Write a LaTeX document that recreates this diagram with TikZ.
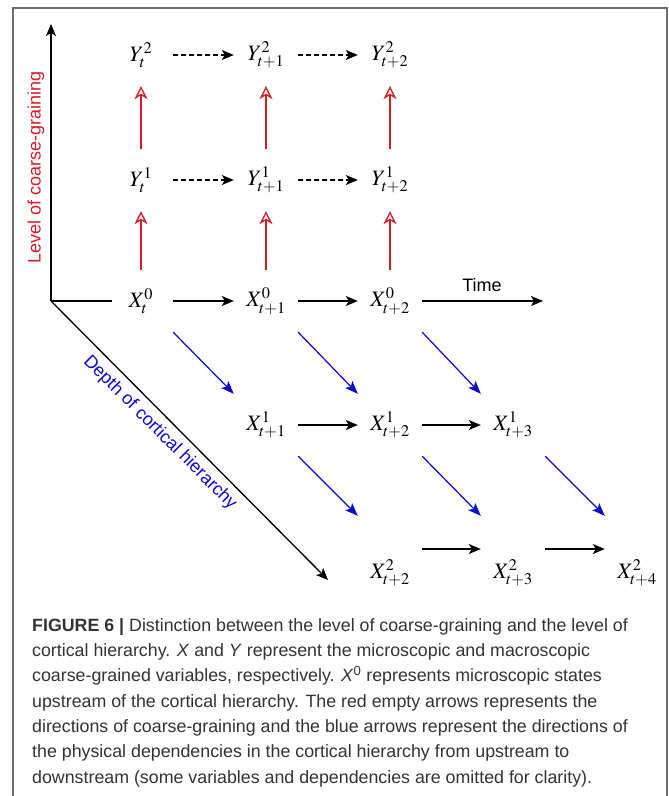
\documentclass[tikz,border=0pt]{standalone}
\usepackage{mathptmx}
\usepackage{fontspec}
\setmainfont{Liberation Sans}
\usetikzlibrary{arrows.meta,positioning}

\definecolor{coarsered}{RGB}{210,30,40}
\definecolor{depthblue}{RGB}{10,10,205}
\definecolor{framegray}{RGB}{110,110,110}

\begin{document}
\begin{tikzpicture}[
    x=1pt, y=-1pt,
    font=\fontsize{18}{20}\selectfont,
    var/.style={inner sep=0pt, minimum width=64pt, minimum height=62pt, font=\fontsize{22}{24}\selectfont},
    line/.style={-{Stealth[length=12pt, width=10pt, inset=3pt]}, line width=1.4pt},
    pred/.style={line, dashed, dash pattern=on 5pt off 3pt},
    coarse/.style={-{Stealth[open, length=13pt, width=13pt, inset=4pt]}, line width=1.3pt, draw=coarsered},
    dep/.style={-{Stealth[length=13pt, width=10pt, inset=3pt]}, line width=1.2pt, draw=depthblue, fill=depthblue},
    axis/.style={line width=1.3pt}
]
\useasboundingbox (0,0) rectangle (669,796);
\draw[framegray, line width=1.2pt] (13,796) -- (13,8) -- (667,8) -- (667,796);

% axes
\coordinate (origin) at (51,301);
\coordinate (ytop) at (51,24);
\coordinate (hend) at (112,301);
\coordinate (dend) at (328,580);
\draw[line, axis] (origin) -- (ytop);
\draw[axis] (origin) -- (hend);
\draw[line, axis] (origin) -- (dend);
\node[rotate=90, text=coarsered] (levellab) at (36,167) {Level of coarse-graining};
\node[rotate=-45, text=depthblue] (depthlab) at (160,433) {Depth of cortical hierarchy};

% variables
\node[var] (Y2a) at (141,55) {$Y_t^2$};
\node[var] (Y2b) at (266,55) {$Y_{t+1}^2$};
\node[var] (Y2c) at (390,55) {$Y_{t+2}^2$};
\node[var] (Y1a) at (141,180) {$Y_t^1$};
\node[var] (Y1b) at (266,180) {$Y_{t+1}^1$};
\node[var] (Y1c) at (390,180) {$Y_{t+2}^1$};
\node[var] (X0a) at (141,301) {$X_t^0$};
\node[var] (X0b) at (266,301) {$X_{t+1}^0$};
\node[var] (X0c) at (390,301) {$X_{t+2}^0$};
\node[var] (X1b) at (266,425) {$X_{t+1}^1$};
\node[var] (X1c) at (390,425) {$X_{t+2}^1$};
\node[var] (X1d) at (513,425) {$X_{t+3}^1$};
\node[var] (X2c) at (390,573) {$X_{t+2}^2$};
\node[var] (X2d) at (513,573) {$X_{t+3}^2$};
\node[var] (X2e) at (637,573) {$X_{t+4}^2$};

% time
\coordinate (tend) at (543,301);
\node (timelab) at (482,285) {Time};
\draw[line] (X0a.east) -- (X0b.west);
\draw[line] (X0b.east) -- (X0c.west);
\draw[line] (X0c.east) -- (tend);
\draw[line] (X1b.east) -- (X1c.west);
\draw[line] (X1c.east) -- (X1d.west);
\draw[line] ([yshift=24pt]X2c.east) -- ([yshift=24pt]X2d.west);
\draw[line] ([yshift=24pt]X2d.east) -- ([yshift=24pt]X2e.west);
\draw[pred] (Y1a.east) -- (Y1b.west);
\draw[pred] (Y1b.east) -- (Y1c.west);
\draw[pred] (Y2a.east) -- (Y2b.west);
\draw[pred] (Y2b.east) -- (Y2c.west);

% coarse-graining
\draw[coarse] (X0a.north) -- (Y1a.south);
\draw[coarse] (X0b.north) -- (Y1b.south);
\draw[coarse] (X0c.north) -- (Y1c.south);
\draw[coarse] (Y1a.north) -- (Y2a.south);
\draw[coarse] (Y1b.north) -- (Y2b.south);
\draw[coarse] (Y1c.north) -- (Y2c.south);

% hierarchy
\draw[dep] (X0a.south east) -- (X1b.north west);
\draw[dep] (X0b.south east) -- (X1c.north west);
\draw[dep] (X0c.south east) -- (X1d.north west);
\draw[dep] (X1b.south east) -- ([yshift=26pt]X2c.north west);
\draw[dep] (X1c.south east) -- ([yshift=26pt]X2d.north west);
\draw[dep] (X1d.south east) -- ([yshift=26pt]X2e.north west);

\node[anchor=base west, align=left, inner sep=0pt, text=black!80,
      font=\fontsize{17.8}{25.3}\selectfont] (caption) at (32,783)
  {\textbf{FIGURE 6 |} Distinction between the level of coarse-graining and the level of\\
   cortical hierarchy. \textit{X} and \textit{Y} represent the microscopic and macroscopic\\
   coarse-grained variables, respectively. \textit{X}\textsuperscript{0} represents microscopic states\\
   upstream of the cortical hierarchy. The red empty arrows represents the\\
   directions of coarse-graining and the blue arrows represent the directions of\\
   the physical dependencies in the cortical hierarchy from upstream to\\
   downstream (some variables and dependencies are omitted for clarity).};
\end{tikzpicture}
\end{document}
